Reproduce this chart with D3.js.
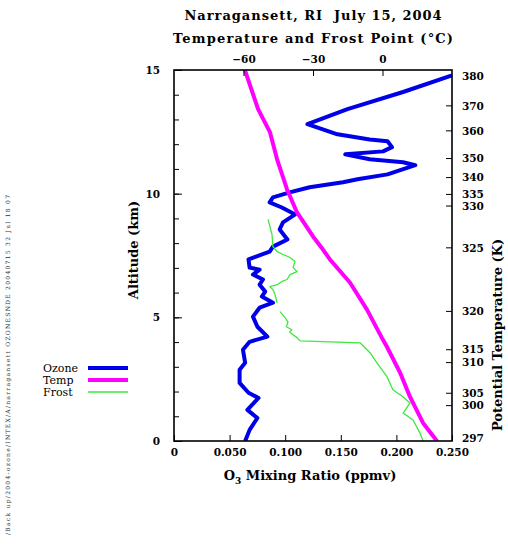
<!DOCTYPE html>
<html>
<head>
<meta charset="utf-8">
<script src="https://cdn.jsdelivr.net/npm/d3@7"></script>
<style>
  body { margin: 0; background: #fff; }
  text { font-family: "DejaVu Serif", serif; }
</style>
</head>
<body>
<script>
// 臭氧 (km, ppmv)
const ozoneAlt = [0, 0.45, 0.93, 1.26, 1.74, 1.95, 2.35, 2.88, 3.16, 3.69, 4.01, 4.22, 4.62, 5.03, 5.39, 5.59, 5.84, 6.04, 6.32, 6.53, 6.73, 6.93, 7.01, 7.34, 7.66, 7.86, 8.15, 8.55, 8.84, 9.16, 9.44, 9.65, 9.85, 10.05, 10.26, 10.46, 10.58, 10.78, 11.15, 11.27, 11.39, 11.59, 11.71, 11.88, 12.12, 12.19, 12.40, 12.81, 13.42, 14.11, 14.75, 14.95]
const ozoneVal = [0.064, 0.068, 0.075, 0.066, 0.076, 0.067, 0.059, 0.059, 0.064, 0.062, 0.068, 0.084, 0.075, 0.071, 0.077, 0.089, 0.079, 0.082, 0.077, 0.080, 0.071, 0.077, 0.068, 0.067, 0.086, 0.089, 0.102, 0.095, 0.098, 0.109, 0.097, 0.086, 0.089, 0.104, 0.122, 0.152, 0.165, 0.192, 0.217, 0.206, 0.176, 0.154, 0.188, 0.196, 0.192, 0.176, 0.147, 0.120, 0.156, 0.206, 0.248, 0.262]

// 温度 (km, °C)
const tempAlt = [0, 0.73, 1.78, 2.76, 3.81, 4.09, 5.31, 6.40, 7.34, 7.74, 8.27, 9.24, 10.17, 11.39, 12.49, 13.42, 15]
const tempVal = [23.5, 17.5, 11.9, 7.6, 1.9, 0.2, -6.7, -14.0, -22.7, -25.7, -30.0, -36.9, -41.2, -45.5, -48.6, -53.7, -59.4]

// 霜点 (km, °C)，null 为断开
const frostAlt = [0, 0.32, 0.85, 1.13, 1.54, 1.78, 2.07, 2.59, 3.16, 3.57, 3.97, 4.05, 4.18, 4.30, 4.40, 4.50, 4.62, 4.70, 4.82, 4.99, 5.23, 5.40, 5.59, 5.92, 6.12, 6.24, 6.32, 6.45, 6.53, 6.73, 6.85, 7.01, 7.26, 7.42, 7.54, 7.66, 7.86, 8.35, 8.96]
const frostVal = [17.5, 16.2, 13.2, 8.9, 11.9, 8.9, 4.5, 2.0, -2.4, -5.4, -9.7, -35.6, -36.9, -38.6, -40.0, -39.1, -41.5, -41.2, -40.8, -42.1, -44.2, null, -45.5, -46.4, -47.3, -48.6, -45.5, -43.4, -41.2, -39.9, -36.9, -38.6, -37.8, -39.9, -42.9, -45.5, -47.3, -47.7, -49.4]

// 位温刻度 (K) 与对应高度 (km)
const thetaTicks = [380, 370, 360, 350, 340, 335, 330, 325, 320, 315, 310, 305, 300, 297]
const thetaAlt = [14.8, 13.55, 12.54, 11.42, 10.65, 9.97, 9.5, 7.81, 5.24, 3.69, 3.17, 1.93, 1.43, 0]

const ozoneTicks = [0, 0.05, 0.1, 0.15, 0.2, 0.25]
const tempTicks = [-60, -30, 0]
const altTicks = [0, 5, 10, 15]

const legendNames = ["Ozone", "Temp", "Frost"]
const colors = { Ozone: "#0000e8", Temp: "#ff00ff", Frost: "#3ee83e" }
const widths = { Ozone: 4, Temp: 4, Frost: 1.3 }

const W = 508, H = 545
const plot = { left: 174, right: 452, top: 70, bottom: 441 }

const svg = d3.select("body").append("svg")
  .attr("width", W)
  .attr("height", H)

// 比例尺
const x = d3.scaleLinear().domain([0, 0.25]).range([plot.left, plot.right])
const xT = d3.scaleLinear().domain([-90, 30]).range([plot.left, plot.right])
const y = d3.scaleLinear().domain([0, 15]).range([plot.bottom, plot.top])

svg.append("clipPath").attr("id", "clip")
  .append("rect")
  .attr("x", plot.left).attr("y", plot.top)
  .attr("width", plot.right - plot.left)
  .attr("height", plot.bottom - plot.top)

// 标题
svg.append("text")
  .text("Narragansett, RI  July 15, 2004")
  .attr("x", 313).attr("y", 20)
  .attr("text-anchor", "middle")
  .attr("font-weight", "bold")
  .attr("font-size", 13)
  .attr("textLength", 257)
  .attr("xml:space", "preserve")
svg.append("text")
  .text("Temperature and Frost Point (°C)")
  .attr("x", 313).attr("y", 43)
  .attr("text-anchor", "middle")
  .attr("font-weight", "bold")
  .attr("font-size", 13)
  .attr("textLength", 280)

// 曲线
const lines = svg.append("g").attr("clip-path", "url(#clip)")
const series = [
  { name: "Ozone", pts: ozoneAlt.map((a, i) => [x(ozoneVal[i]), y(a)]) },
  { name: "Frost", pts: frostAlt.map((a, i) => frostVal[i] == null ? null : [xT(frostVal[i]), y(a)]) },
  { name: "Temp", pts: tempAlt.map((a, i) => [xT(tempVal[i]), y(a)]) },
]
const lineGen = d3.line().defined((d) => d != null).curve(d3.curveLinear)
series.forEach((s) => {
  lines.append("path")
    .attr("d", lineGen(s.pts))
    .attr("fill", "none")
    .attr("stroke", colors[s.name])
    .attr("stroke-width", widths[s.name])
    .attr("stroke-linejoin", "round")
})

// 坐标轴
const tickFont = (g) => g.selectAll("text")
  .attr("font-size", 10.5)
  .attr("font-weight", "bold")
  .attr("fill", "#000")

// 底部 O3
svg.append("g")
  .attr("transform", `translate(0,${plot.bottom})`)
  .call(d3.axisBottom(x).tickValues(ozoneTicks).tickSize(-6).tickPadding(8)
    .tickFormat((d) => d === 0 ? "0" : d3.format(".3f")(d)))
  .call(tickFont)
  .call((g) => g.select(".domain").remove())

// 顶部温度
svg.append("g")
  .attr("transform", `translate(0,${plot.top})`)
  .call(d3.axisTop(xT).tickValues(tempTicks).tickSize(-6).tickPadding(7)
    .tickFormat((d) => d < 0 ? "\u2212" + Math.abs(d) : d))
  .call(tickFont)
  .call((g) => g.select(".domain").remove())

// 左侧高度
svg.append("g")
  .attr("transform", `translate(${plot.left},0)`)
  .call(d3.axisLeft(y).ticks(15).tickSize(-5).tickFormat(""))
  .call((g) => g.select(".domain").remove())
svg.append("g")
  .attr("transform", `translate(${plot.left},0)`)
  .call(d3.axisLeft(y).tickValues(altTicks).tickSize(-8).tickPadding(14))
  .call(tickFont)
  .call((g) => g.select(".domain").remove())

// 右侧位温
const thetaG = svg.append("g")
thetaTicks.forEach((t, i) => {
  const ty = y(thetaAlt[i])
  if (i > 0 && i < thetaTicks.length - 1) {
    thetaG.append("line")
      .attr("x1", plot.right - 6).attr("x2", plot.right)
      .attr("y1", ty).attr("y2", ty)
      .attr("stroke", "#000")
  }
  thetaG.append("text")
    .text(t)
    .attr("x", plot.right + 10)
    .attr("y", i === 0 ? ty + 1 : (i === thetaTicks.length - 1 ? ty - 3 : ty))
    .attr("dy", "0.35em")
    .attr("font-size", 10.5)
    .attr("font-weight", "bold")
})

// 边框
svg.append("rect")
  .attr("x", plot.left).attr("y", plot.top)
  .attr("width", plot.right - plot.left)
  .attr("height", plot.bottom - plot.top)
  .attr("fill", "none")
  .attr("stroke", "#000")
  .attr("stroke-width", 1.6)

// 轴标题
svg.append("text")
  .attr("x", 310).attr("y", 480)
  .attr("text-anchor", "middle")
  .attr("font-weight", "bold")
  .attr("font-size", 13)
  .call((t) => {
    t.append("tspan").text("O")
    t.append("tspan").text("3").attr("font-size", 9).attr("dy", 4)
    t.append("tspan").text(" Mixing Ratio (ppmv)").attr("dy", -4)
  })

svg.append("text")
  .text("Altitude (km)")
  .attr("transform", "translate(138,250) rotate(-90)")
  .attr("text-anchor", "middle")
  .attr("font-weight", "bold")
  .attr("font-size", 13)

svg.append("text")
  .text("Potential Temperature (K)")
  .attr("transform", "translate(502,335) rotate(-90)")
  .attr("text-anchor", "middle")
  .attr("font-weight", "bold")
  .attr("font-size", 13)

// 图例
const legend = svg.append("g").attr("transform", "translate(43,368)")
legendNames.forEach((n, i) => {
  legend.append("text")
    .text(n)
    .attr("x", 0).attr("y", i * 12)
    .attr("dy", "0.35em")
    .attr("font-size", 11)
  legend.append("line")
    .attr("x1", 45).attr("x2", 85)
    .attr("y1", i * 12).attr("y2", i * 12)
    .attr("stroke", colors[n])
    .attr("stroke-width", widths[n])
})

// 左边竖排文件路径
svg.append("text")
  .text("/Back up/2004-ozone/INTEX/A/narragansett OZONESNDE 20040715 32 Jul 18 07")
  .attr("transform", "translate(10,535) rotate(-90)")
  .attr("font-size", 6)
  .attr("textLength", 340)
  .attr("fill", "#333")
</script>
</body>
</html>
